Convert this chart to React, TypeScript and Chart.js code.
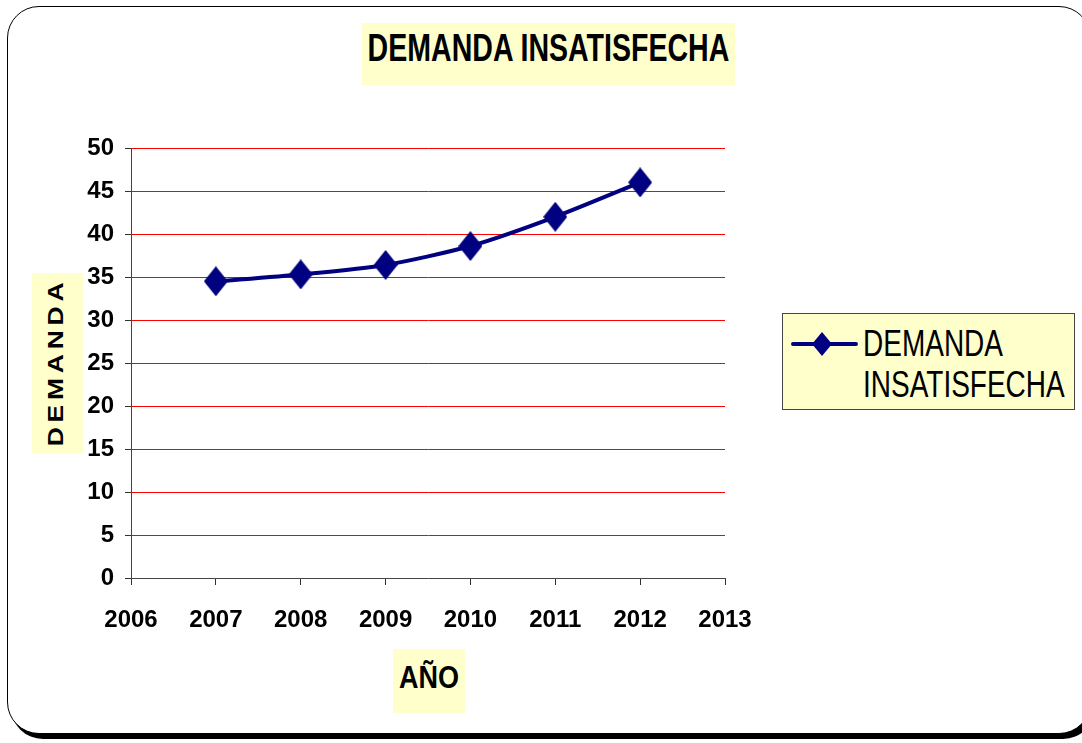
import React, { useEffect, useRef } from "react";
import { Chart, registerables } from "chart.js";

Chart.register(...registerables);

// ---- data ----
const years = [2007, 2008, 2009, 2010, 2011, 2012];
const demanda = [34.5, 35.3, 36.4, 38.6, 42.0, 46.0];
const xTickLabels = ["2006", "2007", "2008", "2009", "2010", "2011", "2012", "2013"];
const yTickLabels = ["0", "5", "10", "15", "20", "25", "30", "35", "40", "45", "50"];
const seriesName = "DEMANDA INSATISFECHA";
const chartTitle = "DEMANDA INSATISFECHA";
const yAxisTitle = "DEMANDA";
const xAxisTitle = "AÑO";

const FONT = "'Liberation Sans', Arial, Helvetica, sans-serif";
const NAVY = "#000080";
const YELLOW = "#FFFFCC";

function makeDiamond(w: number, h: number): HTMLCanvasElement {
  const c = document.createElement("canvas");
  c.width = w;
  c.height = h;
  const ctx = c.getContext("2d")!;
  ctx.fillStyle = NAVY;
  ctx.beginPath();
  ctx.moveTo(w / 2, 0);
  ctx.lineTo(w, h / 2);
  ctx.lineTo(w / 2, h);
  ctx.lineTo(0, h / 2);
  ctx.closePath();
  ctx.fill();
  return c;
}

export default function App() {
  const canvasRef = useRef<HTMLCanvasElement | null>(null);

  useEffect(() => {
    if (!canvasRef.current) return;
    const diamond = makeDiamond(24, 30);
    const xMin = Number(xTickLabels[0]);
    const xMax = Number(xTickLabels[xTickLabels.length - 1]);
    const yMin = Number(yTickLabels[0]);
    const yMax = Number(yTickLabels[yTickLabels.length - 1]);
    const chart = new Chart(canvasRef.current, {
      type: "line",
      data: {
        datasets: [
          {
            label: seriesName,
            data: years.map((y, i) => ({ x: y, y: demanda[i] })),
            borderColor: NAVY,
            backgroundColor: NAVY,
            borderWidth: 4,
            tension: 0.25,
            pointStyle: diamond as any,
            pointRadius: 12,
            pointHoverRadius: 12,
            fill: false,
          },
        ],
      },
      options: {
        animation: false,
        responsive: false,
        devicePixelRatio: 1,
        layout: { padding: { top: 148, right: 357, left: 0, bottom: 0 } },
        plugins: {
          legend: { display: false },
          title: { display: false },
          tooltip: { enabled: false },
        },
        scales: {
          x: {
            type: "linear",
            min: xMin,
            max: xMax,
            afterFit: (s: any) => {
              s.height = 743 - 578;
            },
            afterBuildTicks: (s: any) => {
              s.ticks = xTickLabels.map((t) => ({ value: Number(t) }));
            },
            ticks: {
              stepSize: 1,
              color: "#000",
              font: { family: FONT, size: 24, weight: "bold" },
              padding: 21,
              maxRotation: 0,
              callback: (v: any) => String(v),
            },
            grid: {
              drawOnChartArea: false,
              drawTicks: true,
              tickLength: 7,
              tickColor: "#333",
            },
            border: { color: "#444", width: 1 },
          },
          y: {
            type: "linear",
            min: yMin,
            max: yMax,
            afterFit: (s: any) => {
              s.width = 131;
            },
            afterBuildTicks: (s: any) => {
              s.ticks = yTickLabels.map((t) => ({ value: Number(t) }));
            },
            ticks: {
              stepSize: 5,
              color: "#000",
              font: { family: FONT, size: 24, weight: "bold" },
              padding: 11,
              callback: (v: any) => String(v),
            },
            grid: {
              color: (ctx: any) => (ctx.tick && ctx.tick.value === 0 ? "rgba(0,0,0,0)" : "#FF0000"),
              lineWidth: 1,
              drawTicks: true,
              tickLength: 6,
              tickColor: "#333",
            },
            border: { color: "#444", width: 1 },
          },
        },
      },
    });
    return () => chart.destroy();
  }, []);

  return (
    <div
      style={{
        position: "fixed",
        left: 0,
        top: 0,
        width: 1082,
        height: 743,
        background: "#fff",
        overflow: "hidden",
        fontFamily: FONT,
      }}
    >
      {/* frame */}
      <div
        style={{
          position: "absolute",
          left: 7,
          top: 6,
          width: 1084,
          height: 728,
          border: "1.5px solid #000",
          borderRadius: 32,
          boxShadow: "4px 5px 0 #000",
          background: "#fff",
          boxSizing: "border-box",
        }}
      />
      {/* chart title */}
      <div
        style={{
          position: "absolute",
          left: 362,
          top: 23,
          width: 373,
          height: 62,
          background: YELLOW,
        }}
      >
        <div
          style={{
            position: "absolute",
            left: 0,
            width: "100%",
            top: 25.5,
            textAlign: "center",
            fontWeight: "bold",
            fontSize: 28,
            lineHeight: "28px",
            marginTop: -14,
            color: "#000",
            transform: "scale(1.02, 1.36)",
            whiteSpace: "nowrap",
          }}
        >
          {chartTitle}
        </div>
      </div>
      {/* y axis title */}
      <div
        style={{
          position: "absolute",
          left: 32,
          top: 273,
          width: 51,
          height: 180,
          background: YELLOW,
        }}
      >
        <div
          style={{
            position: "absolute",
            left: 23.5,
            top: 88.5,
            transform: "translate(-50%, -50%) rotate(-90deg) scaleX(1.2)",
            fontWeight: "bold",
            fontSize: 22,
            lineHeight: "22px",
            letterSpacing: 4,
            whiteSpace: "nowrap",
            color: "#000",
          }}
        >
          {yAxisTitle}
        </div>
      </div>
      {/* x axis title */}
      <div
        style={{
          position: "absolute",
          left: 393,
          top: 649,
          width: 72,
          height: 64,
          background: YELLOW,
        }}
      >
        <div
          style={{
            position: "absolute",
            left: 0,
            width: "100%",
            top: 27.5,
            marginTop: -14,
            textAlign: "center",
            fontWeight: "bold",
            fontSize: 27,
            lineHeight: "28px",
            transform: "scaleY(1.17)",
            whiteSpace: "nowrap",
            color: "#000",
          }}
        >
          {xAxisTitle}
        </div>
      </div>
      {/* legend */}
      <div
        style={{
          position: "absolute",
          left: 782,
          top: 313,
          width: 293,
          height: 97,
          background: YELLOW,
          border: "1px solid #444",
          boxSizing: "border-box",
        }}
      >
        <svg
          width={80}
          height={40}
          style={{ position: "absolute", left: 8, top: 10 }}
        >
          <line x1={2} y1={20} x2={65} y2={20} stroke={NAVY} strokeWidth={4} strokeLinecap="round" />
          <polygon points="31,8 41,20 31,32 21,20" fill={NAVY} />
        </svg>
        <div
          style={{
            position: "absolute",
            left: 80,
            top: 9,
            fontSize: 28,
            color: "#000",
            transform: "scaleY(1.3)",
            transformOrigin: "0 0",
            whiteSpace: "pre",
          }}
        >
          <div style={{ lineHeight: "32px" }}>DEMANDA</div>
          <div style={{ lineHeight: "32px" }}>INSATISFECHA</div>
        </div>
      </div>
      <canvas
        ref={canvasRef}
        width={1082}
        height={743}
        style={{ position: "absolute", left: 0, top: 0, width: 1082, height: 743 }}
      />
    </div>
  );
}
